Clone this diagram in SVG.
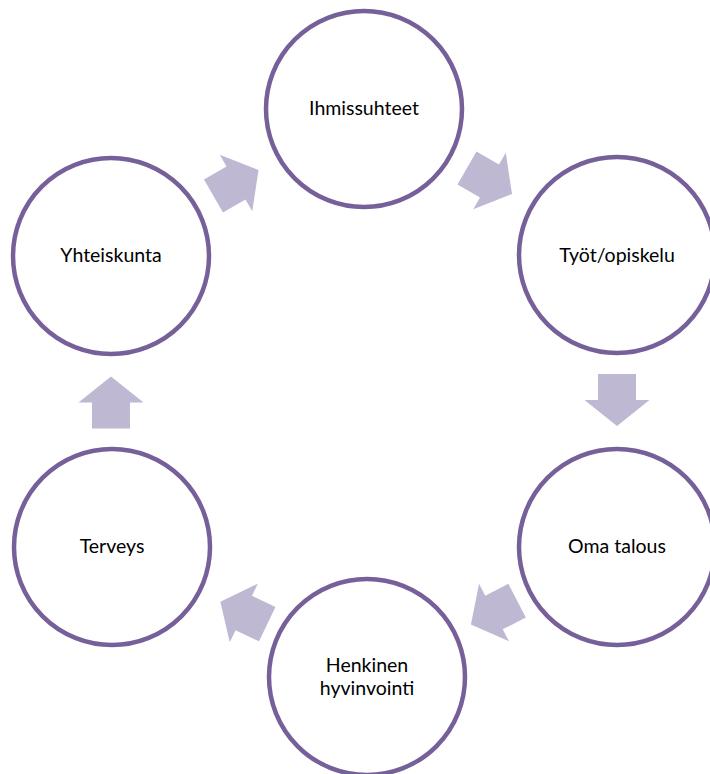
<svg xmlns="http://www.w3.org/2000/svg" width="710" height="774" viewBox="0 0 710 774">
  <style>
    .node circle { fill: #ffffff; stroke: #76609A; stroke-width: 4.5; }
    .node text { font-family: Lato, "Open Sans", "Liberation Sans", sans-serif; font-size: 19.5px; fill: #000000; text-anchor: middle; }
    .arrow { fill: #BFB8D3; }
  </style>
  <defs>
    <polygon id="arr" points="-26,-19 0,-19 0,-32.5 26,0 0,32.5 0,19 -26,19"/>
  </defs>
  <rect width="710" height="774" fill="#ffffff"/>
  <g id="connectors">
    <use href="#arr" class="arrow" transform="translate(489.5,181) rotate(30)"/>
    <use href="#arr" class="arrow" transform="translate(617,400) rotate(90)"/>
    <use href="#arr" class="arrow" transform="translate(494,612.5) rotate(152.6)"/>
    <use href="#arr" class="arrow" transform="translate(243.8,613) rotate(205.6)"/>
    <use href="#arr" class="arrow" transform="translate(111,402.5) rotate(-90)"/>
    <use href="#arr" class="arrow" transform="translate(236,183) rotate(-30)"/>
  </g>
  <g id="node-ihmissuhteet" class="node">
    <circle cx="364" cy="109" r="98"/>
    <text x="364" y="115">Ihmissuhteet</text>
  </g>
  <g id="node-tyot" class="node">
    <circle cx="617" cy="255" r="98"/>
    <text x="617" y="262">Työt/opiskelu</text>
  </g>
  <g id="node-oma-talous" class="node">
    <circle cx="617" cy="547" r="98"/>
    <text x="617" y="553">Oma talous</text>
  </g>
  <g id="node-henkinen" class="node">
    <circle cx="367" cy="677" r="98"/>
    <text x="367" y="672">Henkinen</text>
    <text x="367" y="695">hyvinvointi</text>
  </g>
  <g id="node-terveys" class="node">
    <circle cx="112" cy="547" r="98"/>
    <text x="112" y="553">Terveys</text>
  </g>
  <g id="node-yhteiskunta" class="node">
    <circle cx="111" cy="256" r="98"/>
    <text x="111" y="262">Yhteiskunta</text>
  </g>
</svg>
